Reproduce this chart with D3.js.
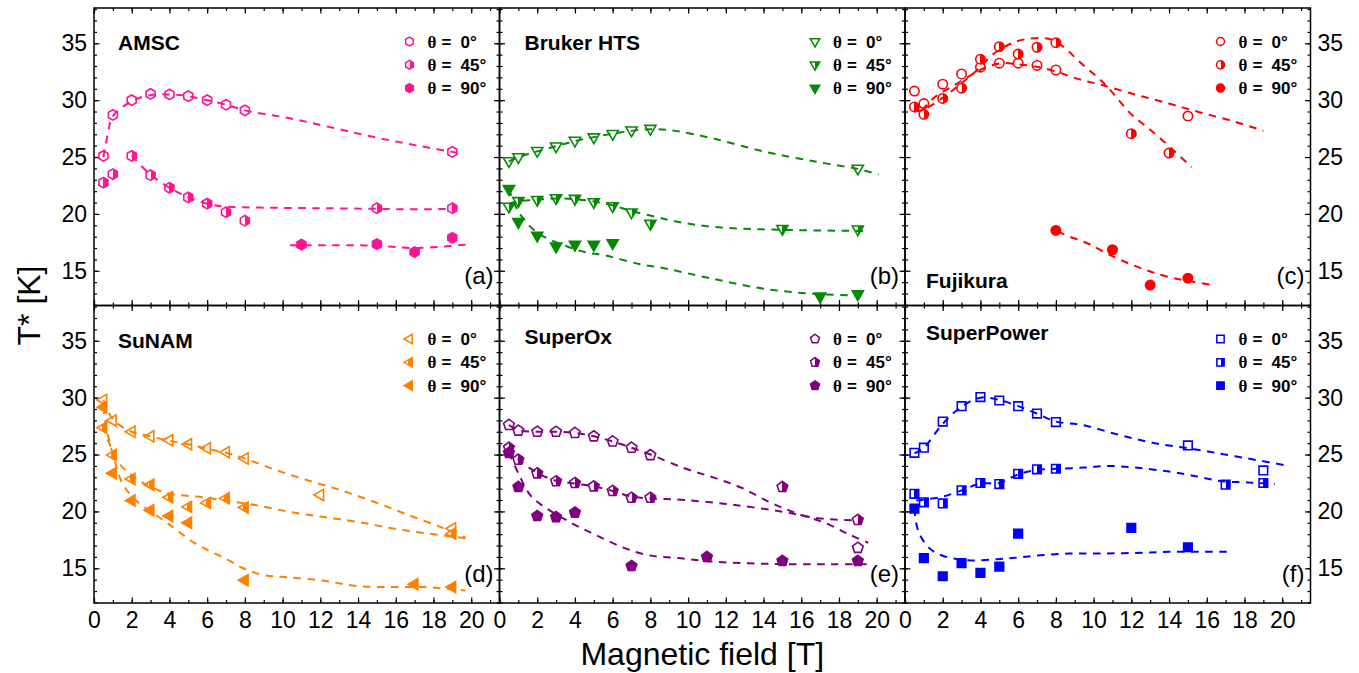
<!DOCTYPE html>
<html><head><meta charset="utf-8">
<script src="https://cdn.jsdelivr.net/npm/d3@7"></script>
<style>body{margin:0;background:#fff}</style>
</head><body><svg id="c" width="1359" height="673"></svg>
<script>
// ---------- DATA ----------
const xTicks = [0,2,4,6,8,10,12,14,16,18,20];
const yTicks = [15,20,25,30,35];
const angleLabels = ["0°","45°","90°"];
const tapes = ["AMSC","Bruker HTS","Fujikura","SuNAM","SuperOx","SuperPower"];
const letters = ["(a)","(b)","(c)","(d)","(e)","(f)"];

const amsc0 = [[0.5,25.1],[1,28.7],[2,30.0],[3,30.55],[4,30.5],[5,30.35],[6,30.0],[7,29.6],[8,29.1],[19,25.45]];
const amsc45 = [[0.5,22.75],[1,23.5],[2,25.1],[3,23.4],[4,22.3],[5,21.45],[6,20.9],[7,20.15],[8,19.4],[15,20.5],[19,20.5]];
const amsc90 = [[11,17.3],[15,17.35],[17,16.65],[19,17.9]];
const amscFit0 = [[0.5,25.0],[0.75,27.2],[1,28.6],[2,29.9],[3,30.45],[4,30.5],[5,30.35],[6,30.0],[7,29.6],[8,29.1],[10.4,28.4],[15,26.7],[17.5,25.9],[19.5,25.3]];
const amscFit45 = [[2,25.1],[3,23.45],[4,22.3],[5,21.45],[6,20.9],[6.9,20.65],[9,20.55],[12,20.5],[15,20.45],[17,20.4],[19.2,20.45]];
const amscFit90 = [[10.4,17.25],[13,17.25],[15,17.2],[17,17.0],[19.7,17.3]];

const bruker0 = [[0.5,24.65],[1,25.0],[2,25.55],[3,25.95],[4,26.45],[5,26.75],[6,27.05],[7,27.35],[8,27.5],[19,24.0]];
const bruker45 = [[0.5,20.65],[1,21.15],[2,21.25],[3,21.4],[4,21.35],[5,21.05],[6,20.7],[7,20.15],[8,19.15],[15,18.7],[19,18.65]];
const bruker90 = [[0.5,22.2],[1,19.3],[2,18.1],[3,17.15],[4,17.3],[5,17.3],[6,17.45],[17,12.75],[19,12.95]];
const brukerFit0 = [[0.5,24.6],[1,25.0],[2,25.5],[3,25.95],[4,26.4],[5,26.75],[6,27.05],[7,27.3],[8,27.45],[9.3,27.3],[11.4,26.6],[14.1,25.45],[16.75,24.6],[19,23.95],[20.1,23.46]];
const brukerFit45 = [[0.5,20.9],[1,21.1],[2,21.25],[3,21.35],[4,21.3],[5,21.1],[6,20.75],[7,20.25],[8.4,19.7],[9.3,19.35],[11.4,18.85],[15,18.6],[19.4,18.5]];
const brukerFit90 = [[0.5,22.2],[1,20.2],[2,18.35],[3.5,17.2],[4.5,16.65],[5.6,16.35],[7.4,15.6],[8.8,15.2],[11.3,14.3],[14.1,13.4],[16.75,12.97],[19.2,12.83]];

const fuji0 = [[0.5,30.8],[1,29.7],[2,31.4],[3,32.3],[4,32.9],[5,33.25],[6,33.25],[7,33.05],[8,32.65],[15,28.6]];
const fuji45 = [[0.5,29.4],[1,28.75],[2,30.15],[3,31.05],[4,33.6],[5,34.7],[6,34.05],[7,34.65],[8,35.05],[12,27.05],[14,25.35]];
const fuji90 = [[8,18.55],[11,16.85],[13,13.75],[15,14.35]];
const fujiFit0 = [[0.9,29.1],[1.6,30.3],[2.5,31.2],[3.35,32.05],[4.25,32.85],[5.1,33.25],[6,33.15],[6.9,32.95],[7.95,32.55],[9.2,31.85],[10.4,31.35],[12.2,30.5],[14,29.7],[15.7,28.9],[17.5,28.1],[19,27.3]];
const fujiFit45 = [[0.5,29.0],[1,29.2],[2,30.2],[3,31.5],[4,32.9],[4.6,33.95],[5.8,35.1],[6.9,35.45],[7.8,35.3],[8.5,34.55],[9.2,33.45],[10.6,31.4],[12,28.75],[12.7,27.8],[13.6,26.55],[15.2,24.1]];
const fujiFit90 = [[8.1,18.5],[8.5,18.15],[9.7,17.4],[11.1,16.2],[12.55,15.2],[14,14.45],[16.3,13.75]];

const sunam0 = [[0.5,29.8],[1,28.0],[2,27.0],[3,26.6],[4,26.25],[5,25.9],[6,25.55],[7,25.2],[8,24.65],[12,21.45],[19,18.5]];
const sunam45 = [[0.5,27.35],[1,24.95],[2,22.85],[3,22.35],[4,21.25],[5,20.4],[6,20.75],[7,21.15],[8,20.35],[19,18.05]];
const sunam90 = [[0.5,29.15],[1,23.35],[2,20.95],[3,20.1],[4,19.6],[5,19.0],[8,13.95],[17,13.6],[19,13.35]];
const sunamFit0 = [[0.5,29.8],[1,28.1],[2,27.0],[3,26.6],[4,26.2],[5,25.9],[6,25.5],[7,25.15],[8,24.65],[9.7,23.6],[11.5,22.65],[13.2,21.8],[15,20.75],[16.8,19.6],[18.5,18.55],[19.7,17.7]];
const sunamFit45 = [[0.5,27.5],[1,25.2],[1.5,23.9],[2,23.2],[2.45,22.65],[3.8,21.65],[6,21.2],[7.2,20.9],[8.6,20.55],[10.4,19.95],[12.2,19.5],[13.9,19.1],[15.7,18.55],[17.5,18.1],[19.7,17.65]];
const sunamFit90 = [[0.5,29.2],[0.6,27.8],[1.1,24.4],[1.5,22.5],[2.2,21.0],[3.7,19.2],[4.4,18.35],[5.3,17.25],[6.15,16.5],[7.05,15.8],[7.85,15.05],[9,14.4],[10.4,14.2],[12.2,13.9],[13.9,13.45],[15.7,13.35],[17.5,13.35],[19.7,13.05]];

const sox0 = [[0.5,27.6],[1,27.1],[2,27.0],[3,27.0],[4,26.9],[5,26.6],[6,26.15],[7,25.6],[8,24.95],[19,16.8]];
const sox45 = [[0.5,25.6],[1,24.55],[2,23.35],[3,22.65],[4,22.5],[5,22.2],[6,21.8],[7,21.2],[8,21.2],[15,22.15],[19,19.25]];
const sox90 = [[0.5,25.15],[1,22.15],[2,19.6],[3,19.5],[4,19.9],[7,15.2],[11,16.0],[15,15.65],[19,15.65]];
const soxFit0 = [[0.5,27.6],[1,27.15],[2,27.0],[3,27.0],[4,26.9],[5,26.6],[6,26.15],[7,25.6],[8,25.0],[9.8,23.8],[11.4,22.95],[12.8,22.1],[14.4,20.75],[15.8,19.8],[17.25,19.0],[18.5,18.0],[19.55,17.25]];
const soxFit45 = [[0.5,25.6],[1,24.6],[2,23.4],[3,22.7],[4,22.45],[5,22.2],[6,21.8],[7,21.3],[8,21.15],[9.8,21.0],[12.3,20.6],[15.1,19.95],[16.9,19.4],[19,19.2]];
const soxFit90 = [[0.5,25.15],[1.07,23.1],[1.6,21.5],[2.2,20.6],[3.8,19.0],[5.2,17.85],[6.6,16.8],[7.9,16.15],[9.5,15.9],[11.2,15.6],[14.1,15.4],[17.6,15.35],[19.55,15.35]];

const sp0 = [[0.5,25.15],[1,25.6],[2,27.9],[3,29.25],[4,30.05],[5,29.75],[6,29.25],[7,28.6],[8,27.85],[15,25.8],[19,23.6]];
const sp45 = [[0.5,21.55],[1,20.8],[2,20.7],[3,21.85],[4,22.5],[5,22.4],[6,23.3],[7,23.7],[8,23.75],[17,22.35],[19,22.5]];
const sp90 = [[0.5,20.25],[1,15.9],[2,14.3],[3,15.45],[4,14.6],[5,15.15],[6,18.05],[12,18.55],[15,16.85]];
const spFit0 = [[0.5,25.1],[1,25.6],[2,27.7],[3,29.2],[4,30.0],[5,29.8],[6,29.25],[7,28.6],[8,27.9],[9.4,27.6],[11.3,26.75],[13.25,26.0],[15.4,25.45],[17.5,24.85],[20.2,24.05]];
const spFit45 = [[0.6,20.95],[2,21.3],[3,21.85],[4,22.45],[5,22.5],[6,23.25],[7,23.65],[8,23.75],[9.5,23.85],[10.8,24.0],[12.2,23.85],[14,23.5],[15.4,23.1],[16.8,22.65],[18.2,22.55],[19.6,22.4]];
const spFit90 = [[0.5,20.25],[0.7,18.3],[1.3,16.75],[2,16.1],[3.35,15.7],[4.9,15.8],[6,15.95],[7.2,16.15],[8.7,16.3],[10.4,16.3],[12.2,16.35],[14,16.45],[17.2,16.45]];

// ---------- STYLE / LAYOUT ----------
const L = 94, T = 8, PW = 405.5, PH = 297.5;
const NARROW = "'Liberation Sans Narrow','Liberation Sans',Arial,sans-serif";
const SANS = "'Liberation Sans',Arial,sans-serif";
const SERIF = "'Liberation Serif','DejaVu Serif',serif";
const panels = [
  {series:[amsc0,amsc45,amsc90], fits:[amscFit0,amscFit45,amscFit90], color:"#ff1493", shape:"hexagon", tx:24, ty:42},
  {series:[bruker0,bruker45,bruker90], fits:[brukerFit0,brukerFit45,brukerFit90], color:"#068a06", shape:"triDown", tx:25, ty:42},
  {series:[fuji0,fuji45,fuji90], fits:[fujiFit0,fujiFit45,fujiFit90], color:"#ff0000", shape:"circle", tx:21, ty:280},
  {series:[sunam0,sunam45,sunam90], fits:[sunamFit0,sunamFit45,sunamFit90], color:"#ff8000", shape:"triLeft", tx:24, ty:42},
  {series:[sox0,sox45,sox90], fits:[soxFit0,soxFit45,soxFit90], color:"#800080", shape:"pentagon", tx:25, ty:38},
  {series:[sp0,sp45,sp90], fits:[spFit0,spFit45,spFit90], color:"#0000ff", shape:"square", tx:21, ty:34}
];

function poly(n, r, a0){
  const pts=[]; for(let k=0;k<n;k++){const a=a0+k*2*Math.PI/n; pts.push([r*Math.cos(a), r*Math.sin(a)]);}
  return "M"+pts.map(p=>p[0].toFixed(2)+","+p[1].toFixed(2)).join("L")+"Z";
}
function shapePath(s, k){
  const sc = k||1;
  if(s==="hexagon") return poly(6,5.2*sc,-Math.PI/2);
  if(s==="pentagon") return poly(5,5.6*sc,-Math.PI/2);
  if(s==="circle"){const r=4.7*sc; return `M${r},0A${r},${r} 0 1,1 ${-r},0A${r},${r} 0 1,1 ${r},0Z`;}
  if(s==="square"){const h=4.3*sc; return `M${-h},${-h}H${h}V${h}H${-h}Z`;}
  if(s==="triDown"){const a=5.6*sc, h=a*Math.sqrt(3); return `M${-a},${-h/3}L${a},${-h/3}L0,${2*h/3}Z`;}
  if(s==="triLeft"){const a=5.6*sc, h=a*Math.sqrt(3); return `M${-2*h/3},0L${h/3},${-a}L${h/3},${a}Z`;}
}

const svg = d3.select("#c");
const defs = svg.append("defs");
const x = d3.scaleLinear().domain([0,21.5]).range([0,PW]);
const y = d3.scaleLinear().domain([11.95,38.1]).range([PH,0]);
const line = d3.line().x(d=>x(d[0])).y(d=>y(d[1])).curve(d3.curveCatmullRom.alpha(0.5));
const xMinor = d3.range(0,22,1), yMinor = d3.range(12,39,1);

panels.forEach((p,i)=>{
  const col=i%3, row=Math.floor(i/3);
  const gid="half"+i;
  const grad=defs.append("linearGradient").attr("id",gid).attr("x1",0).attr("x2",1).attr("y1",0).attr("y2",0);
  grad.append("stop").attr("offset","0").attr("stop-color","#fff");
  grad.append("stop").attr("offset","0.5").attr("stop-color","#fff");
  grad.append("stop").attr("offset","0.5").attr("stop-color",p.color);
  grad.append("stop").attr("offset","1").attr("stop-color",p.color);
  const fills=["#fff",`url(#${gid})`,p.color];

  const g=svg.append("g").attr("transform",`translate(${L+col*PW},${T+row*PH})`);
  defs.append("clipPath").attr("id","clip"+i).append("rect").attr("width",PW).attr("height",PH);

  // axes (ticks inward on all four sides)
  const mk=(axis, vals, size)=>axis.tickValues(vals).tickSize(size).tickFormat("");
  const axes=[
    [`translate(0,${PH})`, xTicks, xMinor, row===1],
    [null, xTicks, xMinor, false],
    [null, yTicks, yMinor, col===0],
    [`translate(${PW},0)`, yTicks, yMinor, col===2]
  ];
  const make=j=>(j===0?d3.axisBottom(x):j===1?d3.axisTop(x):j===2?d3.axisLeft(y):d3.axisRight(y));
  axes.forEach(([tr,maj,mnr,lab],j)=>{
    const gm=g.append("g"); if(tr) gm.attr("transform",tr);
    gm.call(mk(make(j),mnr,-3));
    const gM=g.append("g"); if(tr) gM.attr("transform",tr);
    const ax=make(j).tickValues(maj).tickSize(-5.5).tickPadding(j<2?9:7);
    if(!lab) ax.tickFormat("");
    gM.call(ax);
    [gm,gM].forEach(a=>{a.select(".domain").remove(); a.selectAll("line").attr("stroke","#000").attr("stroke-width",1.2);});
    gM.selectAll("text").attr("font-family",NARROW).attr("font-size",23).attr("fill","#000");
  });

  // markers
  const ms=g.append("g").attr("clip-path",`url(#clip${i})`);
  p.series.forEach((s,k)=>{
    ms.selectAll(null).data(s).join("path")
      .attr("d",shapePath(p.shape))
      .attr("transform",d=>`translate(${x(d[0])},${y(d[1])})`)
      .attr("fill",fills[k]).attr("stroke",p.color).attr("stroke-width",1.6);
  });
  // fits
  p.fits.forEach(f=>{
    ms.append("path").attr("d",line(f)).attr("fill","none").attr("stroke",p.color)
      .attr("stroke-width",2).attr("stroke-dasharray","7.5,6.5");
  });

  // frame
  g.append("rect").attr("width",PW).attr("height",PH).attr("fill","none").attr("stroke","#000").attr("stroke-width",1.5);

  // title
  g.append("text").attr("x",p.tx).attr("y",p.ty).text(tapes[i])
    .attr("font-family",SANS).attr("font-weight","bold").attr("font-size",21).attr("fill","#000");
  // letter
  g.append("text").attr("x",PW-6).attr("y",276).attr("text-anchor","end").text(letters[i])
    .attr("font-family",SANS).attr("font-size",24).attr("fill","#000");
  // legend
  angleLabels.forEach((t,k)=>{
    const yy=33.5+k*23.3;
    g.append("path").attr("d",shapePath(p.shape,0.85)).attr("transform",`translate(${PW-90},${yy})`)
      .attr("fill",fills[k]).attr("stroke",p.color).attr("stroke-width",1.5);
    const tt=g.append("text").attr("y",yy+6).attr("font-weight","bold").attr("font-size",17).attr("fill","#000");
    tt.append("tspan").attr("x",PW-72).attr("font-family",SERIF).text("θ");
    tt.append("tspan").attr("x",PW-58).attr("font-family",SANS).text("=");
    tt.append("tspan").attr("x",PW-39).attr("font-family",SANS).text(t);
  });
});

svg.append("text").attr("x",L+1.5*PW).attr("y",665).attr("text-anchor","middle").text("Magnetic field [T]")
  .attr("font-family",NARROW).attr("font-size",32).attr("fill","#000");
svg.append("text").attr("transform",`translate(40,${T+PH}) rotate(-90)`).attr("text-anchor","middle").text("T* [K]")
  .attr("font-family",NARROW).attr("font-size",32).attr("fill","#000");
</script></body></html>
